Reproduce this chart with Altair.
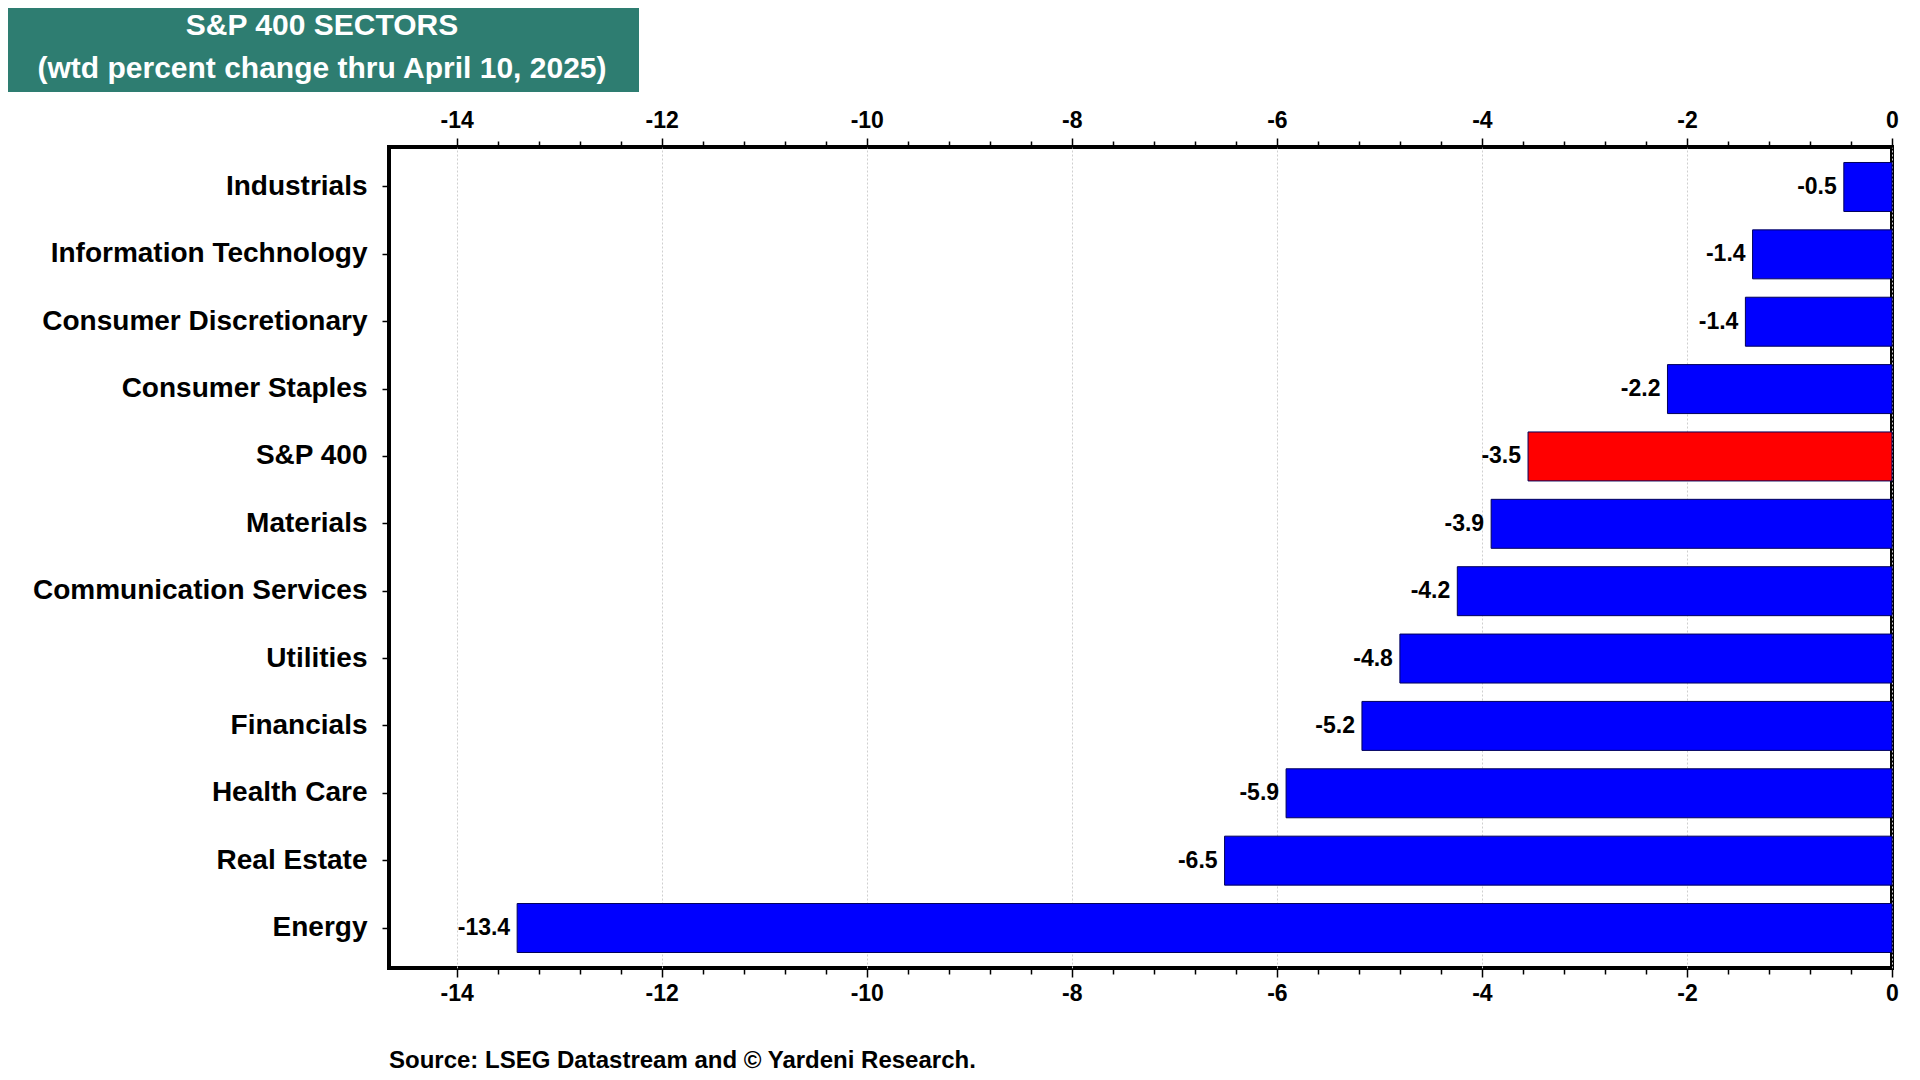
import altair as alt
import pandas as pd

# ---- data ----
sectors = [
    "Industrials", "Information Technology", "Consumer Discretionary",
    "Consumer Staples", "S&P 400", "Materials", "Communication Services",
    "Utilities", "Financials", "Health Care", "Real Estate", "Energy",
]
values = [-0.47, -1.36, -1.43, -2.19, -3.55, -3.91, -4.24, -4.80, -5.17, -5.91, -6.51, -13.41]
value_labels = ["-0.5", "-1.4", "-1.4", "-2.2", "-3.5", "-3.9", "-4.2", "-4.8", "-5.2", "-5.9", "-6.5", "-13.4"]
highlight = "S&P 400"
title_lines = ["S&P 400 SECTORS", "(wtd percent change thru April 10, 2025)"]
source_text = "Source: LSEG Datastream and \u00a9 Yardeni Research."
x_domain = [-14.66, 0]
tick_values = [round(-14 + 0.4 * k, 1) for k in range(36)]

FONT = "Liberation Sans"
TEAL = "#2e7d71"
BLUE = "#0000ff"
RED = "#ff0000"

df = pd.DataFrame({"sector": sectors, "value": values, "label": value_labels})
tdf = pd.DataFrame({"text": ["\n".join(title_lines)]})

major = "abs(datum.value/2 - round(datum.value/2)) < 0.01"
label_expr = f"{major} ? toString(round(datum.value)) : ''"


def x_axis(orient, pad, grid):
    return alt.Axis(
        orient=orient,
        values=tick_values,
        labelExpr=label_expr,
        title=None,
        domain=False,
        ticks=True,
        tickColor="black",
        tickWidth=1.5,
        tickSize={"condition": {"test": major, "value": 9}, "value": 6},
        labelFont=FONT,
        labelFontSize=23,
        labelFontWeight="bold",
        labelColor="black",
        labelPadding=pad,
        labelFlush=False,
        labelOverlap=False,
        grid=grid,
        gridColor="#cfcfcf",
        gridDash=[2, 2],
        gridWidth=1,
        gridOpacity={"condition": {"test": major, "value": 1}, "value": 0},
    )


xscale = alt.Scale(domain=x_domain, nice=False, zero=False)
yenc = alt.Y(
    "sector:N",
    sort=sectors,
    scale=alt.Scale(paddingInner=0.273, paddingOuter=0.23),
    axis=alt.Axis(
        title=None,
        domain=False,
        tickColor="black",
        tickWidth=1.5,
        tickSize=7,
        labelFont=FONT,
        labelFontSize=28,
        labelFontWeight="bold",
        labelColor="black",
        labelPadding=15,
        labelLimit=600,
        minExtent=381,
    ),
)

bars = alt.Chart(df).mark_bar(stroke="#00005a", strokeWidth=1).encode(
    x=alt.X("value:Q", scale=xscale, axis=x_axis("top", 6, False)),
    x2=alt.datum(0),
    y=yenc,
    color=alt.condition(alt.datum.sector == highlight, alt.value(RED), alt.value(BLUE)),
)

texts = alt.Chart(df).mark_text(
    align="right", baseline="middle", dx=-7,
    font=FONT, fontSize=23, fontWeight="bold", color="black",
).encode(
    x=alt.X("value:Q", scale=xscale, axis=x_axis("bottom", 5, True)),
    y=alt.Y("sector:N", sort=sectors),
    text="label:N",
)

# decorative title box, placed above and left of the plot area
title_rect = alt.Chart(tdf).mark_rect(color=TEAL).encode(
    x=alt.value(-381), x2=alt.value(250),
    y=alt.value(-139), y2=alt.value(-55),
)
title_text = alt.Chart(tdf).mark_text(
    font=FONT, fontSize=30, fontWeight="bold", color="white",
    align="center", baseline="middle", lineBreak="\n", lineHeight=43,
).encode(
    x=alt.value(-67), y=alt.value(-121),
    text="text:N",
)

chart = alt.layer(title_rect, title_text, bars, texts).resolve_axis(x="independent").properties(
    width=1503,
    height=821,
    view=alt.ViewBackground(stroke="black", strokeWidth=4, fill="white"),
    padding={"left": 0, "top": 0, "right": 5, "bottom": 0},
    background="white",
    title=alt.TitleParams(
        text=source_text,
        orient="bottom",
        anchor="start",
        frame="group",
        offset=44,
        font=FONT,
        fontSize=24,
        fontWeight="bold",
        color="black",
    ),
)

chart.save("out.html", embed_options={"renderer": "svg", "actions": False})
